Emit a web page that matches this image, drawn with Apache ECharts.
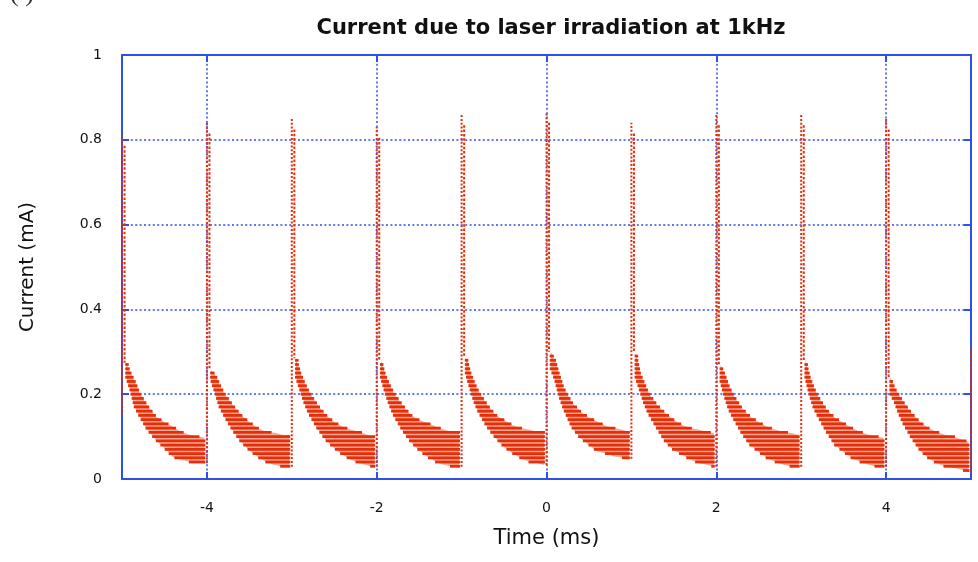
<!DOCTYPE html>
<html><head><meta charset="utf-8">
<script src="https://cdn.jsdelivr.net/npm/echarts@6/dist/echarts.min.js"></script>
<style>html,body{margin:0;padding:0;background:#fff}#c{width:978px;height:562px}</style>
</head><body><div id="c"></div>
<script>
// ---- data ----
const titleText = 'Current due to laser irradiation at 1kHz';
const xName = 'Time (ms)';
const yName = 'Current (mA)';
const xTickValues = [-4, -2, 0, 2, 4];

// spikes (laser pulses) : time, lowest point of rising edge, peak value
const spikeTimes = [-5, -4, -3, -2, -1, 0, 1, 2, 3, 4, 5];
const spikeLows  = [0.15, 0.037, 0.029, 0.029, 0.029, 0.033, 0.048, 0.029, 0.029, 0.029, 0.017];
const spikePeaks = [0.81, 0.84, 0.85, 0.83, 0.86, 0.866, 0.84, 0.86, 0.86, 0.85, 0.31];

// decaying noisy band after each pulse: time offsets (ms) and upper / lower envelopes
const pulseStarts = [-5, -4, -3, -2, -1, 0, 1, 2, 3, 4];
const offsets = [0.05, 0.1, 0.15, 0.2, 0.3, 0.4, 0.5, 0.6, 0.7, 0.8, 0.9, 0.97];

const upperM5 = [0.274, 0.25, 0.23, 0.205, 0.172, 0.147, 0.134, 0.123, 0.111, 0.104, 0.1, 0.097];
const lowerM5 = [0.24, 0.21, 0.17, 0.151, 0.116, 0.092, 0.073, 0.052, 0.045, 0.04, 0.038, 0.037];
const upperM4 = [0.257, 0.245, 0.222, 0.203, 0.175, 0.151, 0.134, 0.12, 0.111, 0.109, 0.104, 0.104];
const lowerM4 = [0.233, 0.203, 0.17, 0.151, 0.116, 0.088, 0.068, 0.052, 0.04, 0.033, 0.029, 0.029];
const upperM3 = [0.285, 0.25, 0.226, 0.206, 0.175, 0.151, 0.134, 0.123, 0.116, 0.111, 0.104, 0.101];
const lowerM3 = [0.24, 0.21, 0.179, 0.155, 0.12, 0.092, 0.073, 0.057, 0.045, 0.037, 0.031, 0.029];
const upperM2 = [0.28, 0.245, 0.222, 0.203, 0.175, 0.151, 0.139, 0.132, 0.123, 0.116, 0.111, 0.111];
const lowerM2 = [0.24, 0.205, 0.175, 0.151, 0.116, 0.088, 0.068, 0.052, 0.04, 0.033, 0.029, 0.029];
const upperM1 = [0.29, 0.252, 0.226, 0.206, 0.175, 0.151, 0.139, 0.127, 0.12, 0.116, 0.111, 0.111];
const lowerM1 = [0.25, 0.214, 0.182, 0.158, 0.123, 0.097, 0.076, 0.061, 0.049, 0.04, 0.037, 0.033];
const upperP0 = [0.30, 0.28, 0.245, 0.215, 0.18, 0.159, 0.145, 0.135, 0.125, 0.12, 0.116, 0.111];
const lowerP0 = [0.26, 0.235, 0.196, 0.167, 0.122, 0.096, 0.081, 0.065, 0.06, 0.053, 0.05, 0.048];
const upperP1 = [0.3, 0.25, 0.226, 0.203, 0.175, 0.155, 0.139, 0.127, 0.12, 0.116, 0.111, 0.108];
const lowerP1 = [0.24, 0.21, 0.179, 0.155, 0.12, 0.088, 0.068, 0.057, 0.045, 0.037, 0.033, 0.029];
const upperP2 = [0.27, 0.245, 0.217, 0.198, 0.167, 0.147, 0.134, 0.123, 0.116, 0.111, 0.108, 0.104];
const lowerP2 = [0.23, 0.194, 0.163, 0.144, 0.108, 0.08, 0.064, 0.049, 0.04, 0.033, 0.029, 0.029];
const upperP3 = [0.28, 0.24, 0.214, 0.194, 0.163, 0.144, 0.132, 0.12, 0.111, 0.104, 0.1, 0.097];
const lowerP3 = [0.24, 0.198, 0.167, 0.147, 0.111, 0.08, 0.064, 0.049, 0.04, 0.033, 0.029, 0.029];
const upperP4 = [0.24, 0.214, 0.198, 0.182, 0.155, 0.134, 0.12, 0.111, 0.104, 0.1, 0.092, 0.088];
const lowerP4 = [0.2, 0.182, 0.155, 0.132, 0.097, 0.068, 0.049, 0.037, 0.029, 0.026, 0.021, 0.017];

const bandUpper = [upperM5, upperM4, upperM3, upperM2, upperM1, upperP0, upperP1, upperP2, upperP3, upperP4];
const bandLower = [lowerM5, lowerM4, lowerM3, lowerM2, lowerM1, lowerP0, lowerP1, lowerP2, lowerP3, lowerP4];
const levelStep = 0.01;   // digitiser quantisation step (stripes)

// ---- styles ----
const BLUE = '#2d4fea';
const RED = '#e52e0a';
const PINK = '#f5a994';
const FONT = 'DejaVu Sans';

function segRange(u0, u1, l0, l1, L) {
  let s0 = 0, s1 = 1;
  if (u0 < L && u1 < L) return null;
  if (!(u0 >= L && u1 >= L)) {
    const s = (L - u0) / (u1 - u0);
    if (u0 >= L) s1 = Math.min(s1, s); else s0 = Math.max(s0, s);
  }
  if (l0 > L && l1 > L) return null;
  if (!(l0 <= L && l1 <= L)) {
    const s = (L - l0) / (l1 - l0);
    if (l0 <= L) s1 = Math.min(s1, s); else s0 = Math.max(s0, s);
  }
  return s1 > s0 ? [s0, s1] : null;
}

function renderBand(params, api) {
  const i = params.dataIndex;
  const t0 = pulseStarts[i], up = bandUpper[i], lo = bandLower[i];
  const children = [];
  const poly = [];
  for (let j = 0; j < offsets.length; j++) poly.push(api.coord([t0 + offsets[j], up[j]]));
  for (let j = offsets.length - 1; j >= 0; j--) poly.push(api.coord([t0 + offsets[j], lo[j]]));
  children.push({ type: 'polygon', shape: { points: poly }, style: { fill: PINK } });
  const minL = Math.min.apply(null, lo), maxL = Math.max.apply(null, up);
  for (let q = Math.ceil(minL / levelStep); q * levelStep <= maxL + 1e-9; q++) {
    const L = q * levelStep;
    let a = Infinity, b = -Infinity;
    for (let j = 0; j < offsets.length - 1; j++) {
      const r = segRange(up[j], up[j + 1], lo[j], lo[j + 1], L);
      if (r) {
        const d = offsets[j + 1] - offsets[j];
        a = Math.min(a, t0 + offsets[j] + r[0] * d);
        b = Math.max(b, t0 + offsets[j] + r[1] * d);
      }
    }
    if (b > a) {
      const p1 = api.coord([a, L]), p2 = api.coord([b, L]);
      children.push({ type: 'line', shape: { x1: p1[0] - 1, y1: p1[1], x2: Math.max(p2[0], p1[0] + 1.5) + 1, y2: p2[1] },
        style: { stroke: RED, lineWidth: 2.8 } });
    }
  }
  return { type: 'group', children };
}

function renderSpike(params, api) {
  const i = params.dataIndex;
  const t = spikeTimes[i];
  const children = [];
  const a = api.coord([t, spikeLows[i]]), b = api.coord([t, spikePeaks[i]]);
  children.push({ type: 'line', shape: { x1: a[0], y1: a[1], x2: b[0], y2: b[1] },
    style: { stroke: RED, lineWidth: 2, lineDash: [2, 1.8] } });
  if (i < pulseStarts.length) {
    const c = api.coord([t + 0.03, spikePeaks[i] * 0.97]), d = api.coord([t + 0.03, bandUpper[i][0]]);
    children.push({ type: 'line', shape: { x1: c[0], y1: c[1], x2: d[0], y2: d[1] },
      style: { stroke: RED, lineWidth: 2, lineDash: [2.5, 1.8] } });
  }
  return { type: 'group', children };
}

const chart = echarts.init(document.getElementById('c'), null, { renderer: 'canvas' });
const axisLabelStyle = { color: '#111', fontFamily: FONT, fontSize: 14 };
const gridLine = { show: true, lineStyle: { color: BLUE, width: 1.5, type: [2, 2.4] } };
chart.setOption({
  animation: false,
  backgroundColor: '#fff',
  title: {
    text: titleText, left: 546, top: 13, textAlign: 'center',
    textStyle: { fontFamily: FONT, fontWeight: 'bold', fontSize: 21, color: '#111' }
  },
  graphic: [{ type: 'text', left: 10, top: -19, style: { text: '( )', font: '26px "Liberation Serif"', fill: '#333' } }],
  grid: { left: 122, right: 7, top: 55, bottom: 83, show: false },
  xAxis: [{
    type: 'value', min: -5, max: 5, position: 'bottom',
    name: xName, nameLocation: 'middle', nameGap: 49,
    nameTextStyle: { fontFamily: FONT, fontSize: 21, color: '#111' },
    axisLine: { show: true, onZero: false, lineStyle: { color: BLUE, width: 2 } },
    axisTick: { show: true, inside: true, length: 7, customValues: xTickValues, lineStyle: { color: BLUE, width: 2 } },
    axisLabel: Object.assign({ margin: 22, customValues: xTickValues }, axisLabelStyle),
    splitLine: gridLine
  }, {
    type: 'value', min: -5, max: 5, position: 'top',
    axisLine: { show: true, onZero: false, lineStyle: { color: BLUE, width: 2 } },
    axisTick: { show: true, inside: true, length: 7, customValues: xTickValues, lineStyle: { color: BLUE, width: 2 } },
    axisLabel: { show: false }, splitLine: { show: false }
  }],
  yAxis: [{
    type: 'value', min: 0, max: 1, interval: 0.2, position: 'left',
    name: yName, nameLocation: 'middle', nameGap: 84,
    nameTextStyle: { fontFamily: FONT, fontSize: 20, color: '#111' },
    axisLine: { show: true, onZero: false, lineStyle: { color: BLUE, width: 2 } },
    axisTick: { show: true, inside: true, length: 7, lineStyle: { color: BLUE, width: 2 } },
    axisLabel: Object.assign({ margin: 20 }, axisLabelStyle),
    splitLine: gridLine
  }, {
    type: 'value', min: 0, max: 1, interval: 0.2, position: 'right',
    axisLine: { show: true, onZero: false, lineStyle: { color: BLUE, width: 2 } },
    axisTick: { show: true, inside: true, length: 7, lineStyle: { color: BLUE, width: 2 } },
    axisLabel: { show: false }, splitLine: { show: false }
  }],
  series: [{
    type: 'custom', name: 'band', clip: true, xAxisIndex: 0, yAxisIndex: 0,
    data: pulseStarts.map((t, i) => [t, bandUpper[i][0]]),
    renderItem: renderBand
  }, {
    type: 'custom', name: 'spikes', clip: true, xAxisIndex: 0, yAxisIndex: 0,
    data: spikeTimes.map((t, i) => [t, spikePeaks[i]]),
    renderItem: renderSpike
  }]
});
</script></body></html>
